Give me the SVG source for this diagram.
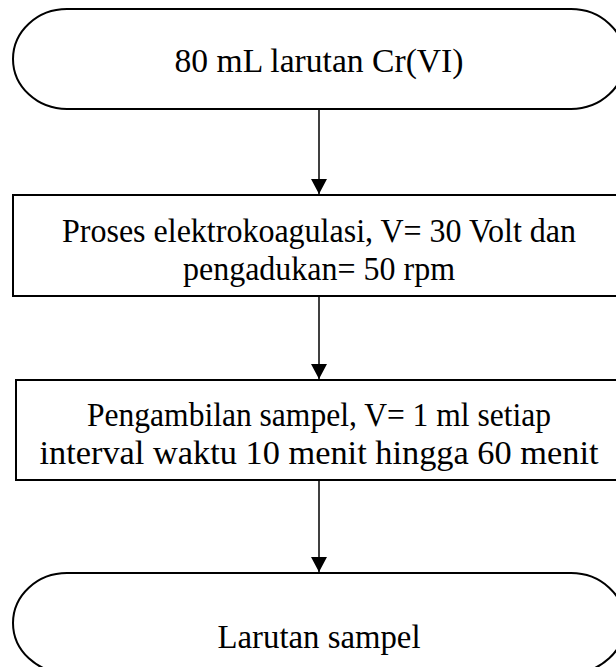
<svg xmlns="http://www.w3.org/2000/svg" width="616" height="667" viewBox="0 0 616 667">
  <style>
    .shape { fill: #ffffff; stroke: #000000; stroke-width: 2; }
    .label { font-family: "Liberation Serif", "Times New Roman", serif; font-size: 33px; fill: #000000; text-anchor: middle; }
    .flow { stroke: #000000; stroke-width: 1.5; fill: none; }
  </style>
  <defs>
    <marker id="arrow" markerUnits="userSpaceOnUse" markerWidth="16" markerHeight="16" refX="15" refY="8" orient="auto">
      <path d="M0,0 L15,8 L0,16 Z" fill="#000000"/>
    </marker>
  </defs>
  <rect width="616" height="667" fill="#ffffff"/>

  <!-- labels are drawn slightly taller than wide, as in the source document -->
  <g id="start">
    <rect class="shape" x="13" y="9" width="612" height="100" rx="54" ry="50"/>
    <text class="label" transform="translate(319,72) scale(1,1.04)" textLength="289" lengthAdjust="spacingAndGlyphs">80 mL larutan Cr(VI)</text>
  </g>

  <g id="electrocoagulation">
    <rect class="shape" x="13" y="195" width="612" height="101"/>
    <text class="label" transform="translate(319,242) scale(1,1.04)" textLength="514" lengthAdjust="spacingAndGlyphs">Proses elektrokoagulasi, V= 30 Volt dan</text>
    <text class="label" transform="translate(319,280) scale(1,1.04)" textLength="272" lengthAdjust="spacingAndGlyphs">pengadukan= 50 rpm</text>
  </g>

  <g id="sampling">
    <rect class="shape" x="16" y="380" width="609" height="100"/>
    <text class="label" transform="translate(319,426) scale(1,1.04)" textLength="464" lengthAdjust="spacingAndGlyphs">Pengambilan sampel, V= 1 ml setiap</text>
    <text class="label" transform="translate(319,464) scale(1,1.04)" textLength="559" lengthAdjust="spacingAndGlyphs">interval waktu 10 menit hingga 60 menit</text>
  </g>

  <g id="end">
    <rect class="shape" x="13" y="573" width="612" height="100" rx="54" ry="50"/>
    <text class="label" transform="translate(319,648) scale(1,1.04)" textLength="203" lengthAdjust="spacingAndGlyphs">Larutan sampel</text>
  </g>

  <g id="connectors">
    <line class="flow" x1="319" y1="110" x2="319" y2="194" marker-end="url(#arrow)"/>
    <line class="flow" x1="319" y1="297" x2="319" y2="379" marker-end="url(#arrow)"/>
    <line class="flow" x1="319" y1="481" x2="319" y2="572" marker-end="url(#arrow)"/>
  </g>
</svg>
